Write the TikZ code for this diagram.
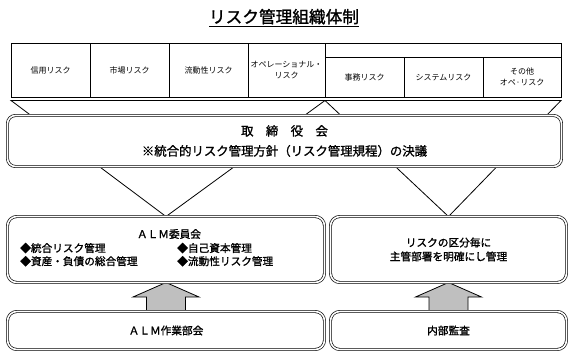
\documentclass[tikz,border=0pt]{standalone}
\usepackage{fontspec}
\setmainfont{Noto Sans CJK JP}[BoldFont={Noto Sans CJK JP},BoldFeatures={FakeBold=1.3}]
\usetikzlibrary{calc,positioning,backgrounds}

\begin{document}
\begin{tikzpicture}[
  x=0.75pt,y=-0.75pt,
  cell/.style={draw,line width=0.6pt,outer sep=0pt,inner sep=1pt,align=center,font=\fontsize{6}{8}\selectfont,minimum width=59.25pt,minimum height=40.5pt},
  subcell/.style={cell,minimum height=30pt},
  board/.style={draw,double,double distance=1.2pt,line width=0.5pt,outer sep=0pt,rounded corners=6pt,fill=white,align=center,minimum width=415.5pt,minimum height=38.25pt,font=\bfseries\fontsize{9.3}{15}\selectfont},
  panel/.style={board,rounded corners=7pt,minimum width=237.75pt,minimum height=49.5pt,font=\bfseries\fontsize{8}{10.5}\selectfont},
  funnel/.style={draw,line width=0.6pt,fill=white},
  uparrow/.style={draw,line width=0.6pt,fill=gray!50}
]
\useasboundingbox (0,0) rectangle (573,357);
\node[font=\bfseries\fontsize{12.5}{15}\selectfont] (title) at (284,18) {\underline{リスク管理組織体制}};

% risk categories
\node[cell] (credit) at (50.5,70) {信用リスク};
\node[cell,right=0pt of credit] (market) {市場リスク};
\node[cell,right=0pt of market] (liquid) {流動性リスク};
\node[cell,minimum width=57.75pt,right=0pt of liquid] (oprisk) {オペレーショナル・\\リスク};
\node[subcell,anchor=south west] (admin) at (oprisk.south east) {事務リスク};
\node[subcell,right=0pt of admin] (system) {システムリスク};
\node[subcell,minimum width=58.5pt,right=0pt of system] (other) {その他\\オペ·リスク};
\draw[line width=0.6pt] (oprisk.north east) -| (other.north east);

% board
\node[board] (board) at (284.5,141) {取　締　役　会\\※統合的リスク管理方針（リスク管理規程）の決議};

% committees
\node[panel] (alm) at (166,249.5) {};
\node[font=\bfseries\fontsize{8}{10.5}\selectfont] (almname) at (169,234) {ＡＬＭ委員会};
\node[anchor=west,inner sep=0pt,font=\bfseries\fontsize{8}{9.75}\selectfont] (almtasks) at (20,256) {%
  \begin{tabular}{@{}p{117.75pt}@{}l@{}}
  ◆統合リスク管理 & ◆自己資本管理\\
  ◆資産・負債の総合管理 & ◆流動性リスク管理
  \end{tabular}};
\node[panel,minimum width=177pt] (dept) at (448.5,249.5) {リスクの区分毎に\\主管部署を明確にし管理};

% working groups
\node[panel,minimum height=28.5pt] (work) at (166,330.5) {ＡＬＭ作業部会};
\node[panel,minimum width=177pt,minimum height=28.5pt] (audit) at (448.5,330.5) {内部監査};

\begin{scope}[on background layer]
\draw[funnel] ($(credit.south west)+(0,3.5)$) -- ($(oprisk.south east)+(0,3.5)$) -- (alm.north) -- cycle;
\draw[funnel] ($(oprisk.south east)+(0,3.5)$) -- ($(other.south east)+(0,3.5)$) -- (dept.north) -- cycle;
\coordinate (almgap) at ($(alm.south)!.5!(work.north)$);
\coordinate (deptgap) at ($(dept.south)!.5!(audit.north)$);
\draw[uparrow] (alm.south) -- ($(almgap)+(33,0)$) -- ($(almgap)+(19.5,0)$) -- ($(work.north)+(19.5,0)$)
  -- ($(work.north)+(-19.5,0)$) -- ($(almgap)+(-19.5,0)$) -- ($(almgap)+(-33,0)$) -- cycle;
\draw[uparrow] (dept.south) -- ($(deptgap)+(33,0)$) -- ($(deptgap)+(19.5,0)$) -- ($(audit.north)+(19.5,0)$)
  -- ($(audit.north)+(-19.5,0)$) -- ($(deptgap)+(-19.5,0)$) -- ($(deptgap)+(-33,0)$) -- cycle;
\end{scope}
\end{tikzpicture}
\end{document}
